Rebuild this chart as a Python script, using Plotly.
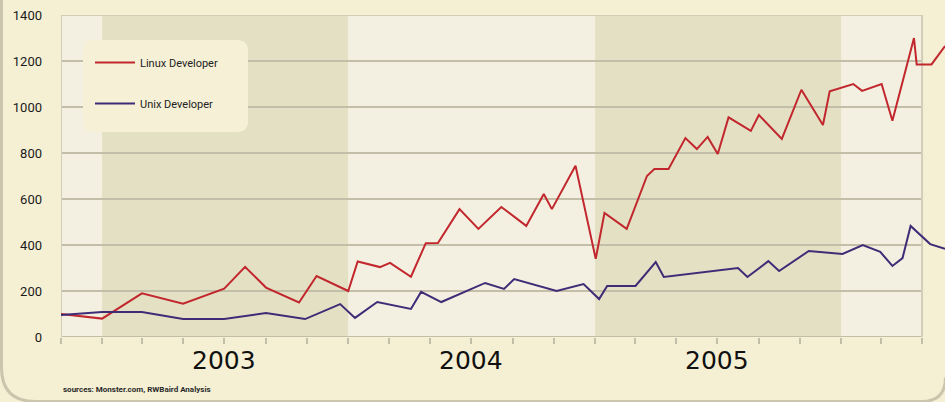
import plotly.graph_objects as go

# ---------------- data ----------------
linux_dates = ["2002-11-01", "2003-01-01", "2003-03-01", "2003-05-01", "2003-07-01", "2003-08-01",
               "2003-09-01", "2003-10-20", "2003-11-15", "2004-01-01", "2004-01-15", "2004-02-17",
               "2004-03-03", "2004-04-03", "2004-04-25", "2004-05-13", "2004-06-14", "2004-07-12",
               "2004-08-15", "2004-09-21", "2004-10-17", "2004-10-29", "2004-12-03", "2005-01-02",
               "2005-01-15", "2005-02-17", "2005-03-19", "2005-03-30", "2005-04-20", "2005-05-15",
               "2005-06-01", "2005-06-17", "2005-07-02", "2005-07-18", "2005-08-20", "2005-09-01",
               "2005-10-05", "2005-11-03", "2005-12-05", "2005-12-15", "2006-01-19", "2006-02-01",
               "2006-03-02", "2006-03-18", "2006-04-19", "2006-04-23", "2006-05-15", "2006-06-04"]
linux_values = [100, 80, 190, 145, 210, 305,
                215, 150, 265, 200, 328, 304,
                322, 262, 408, 409, 556, 470,
                565, 483, 622, 556, 745, 340,
                539, 470, 700, 730, 730, 865,
                817, 870, 796, 955, 896, 965,
                861, 1075, 922, 1068, 1100, 1070,
                1100, 940, 1300, 1185, 1185, 1265]

unix_dates = ["2002-11-01", "2003-01-01", "2003-03-01", "2003-05-01", "2003-07-01", "2003-09-01",
              "2003-10-29", "2003-12-20", "2004-01-11", "2004-02-13", "2004-04-03", "2004-04-18",
              "2004-05-18", "2004-07-22", "2004-08-19", "2004-09-03", "2004-11-05", "2004-12-15",
              "2005-01-07", "2005-01-19", "2005-03-02", "2005-04-01", "2005-04-13", "2005-08-01",
              "2005-08-15", "2005-09-15", "2005-10-01", "2005-11-14", "2006-01-03", "2006-02-02",
              "2006-02-28", "2006-03-18", "2006-04-02", "2006-04-14", "2006-05-13", "2006-06-04"]
unix_values = [96, 109, 109, 78, 78, 104,
               78, 143, 83, 152, 122, 196,
               152, 235, 209, 252, 200, 230,
               165, 222, 222, 326, 261, 300,
               261, 330, 287, 374, 361, 400,
               370, 309, 343, 483, 404, 383]

y_ticks = [0, 200, 400, 600, 800, 1000, 1200, 1400]
year_labels = ["2003", "2004", "2005"]
year_mids = ["2003-07-01", "2004-07-01", "2005-07-01"]
band_edges = ["2002-11-01", "2003-01-01", "2004-01-01", "2005-01-01", "2006-01-01", "2006-05-01"]
x_range = ["2002-11-01", "2006-06-04"]

# ---------------- style ----------------
PAGE = "#F5F0D4"
LIGHT = "#F3F0E1"
DARK = "#E4E0C4"
GRID = "#C3BEA7"
FRAME = "#D3CDB8"
RED = "#C1272D"
BLUE = "#3F2C77"

W, H = 945, 402
L, R, T, B = 61, 0, 15, 65
PW, PH = W - L - R, H - T - B


def px(x):
    return (x - L) / PW


def py(y):
    return (H - B - y) / PH


fig = go.Figure()
fig.add_trace(go.Scatter(x=linux_dates, y=linux_values, mode="lines", name="Linux Developer",
                         line=dict(color=RED, width=2), legendgroup="a"))
fig.add_trace(go.Scatter(x=unix_dates, y=unix_values, mode="lines", name="Unix Developer",
                         line=dict(color=BLUE, width=2), legendgroup="b"))

shapes = []
# alternating year bands
for i in range(len(band_edges) - 1):
    shapes.append(dict(type="rect", xref="x", yref="y", x0=band_edges[i], x1=band_edges[i + 1],
                       y0=0, y1=1400, fillcolor=DARK if i % 2 == 1 else LIGHT,
                       line=dict(width=0), layer="below"))
# gridlines
for v in y_ticks:
    shapes.append(dict(type="line", xref="x", yref="y", x0=band_edges[0], x1=band_edges[-1],
                       y0=v, y1=v, line=dict(color=GRID, width=2), layer="below"))
# frame
shapes.append(dict(type="line", xref="x", yref="y", x0=band_edges[0], x1=band_edges[0],
                   y0=0, y1=1400, line=dict(color=FRAME, width=2), layer="below"))
shapes.append(dict(type="line", xref="x", yref="y", x0=band_edges[-1], x1=band_edges[-1],
                   y0=0, y1=1400, line=dict(color=FRAME, width=2), layer="below"))
shapes.append(dict(type="line", xref="x", yref="y", x0=band_edges[0], x1=band_edges[-1],
                   y0=1400, y1=1400, line=dict(color=FRAME, width=2), layer="below"))

# legend rounded box
lx0, lx1, ly0, ly1, rr = 83, 248, 40, 132, 11
path = (f"M {px(lx0+rr)} {py(ly0)} L {px(lx1-rr)} {py(ly0)} Q {px(lx1)} {py(ly0)} {px(lx1)} {py(ly0+rr)} "
        f"L {px(lx1)} {py(ly1-rr)} Q {px(lx1)} {py(ly1)} {px(lx1-rr)} {py(ly1)} "
        f"L {px(lx0+rr)} {py(ly1)} Q {px(lx0)} {py(ly1)} {px(lx0)} {py(ly1-rr)} "
        f"L {px(lx0)} {py(ly0+rr)} Q {px(lx0)} {py(ly0)} {px(lx0+rr)} {py(ly0)} Z")
shapes.append(dict(type="path", xref="paper", yref="paper", path=path, fillcolor="#F6F1D6",
                   line=dict(width=0), layer="above"))

# outer rounded panel border
bx0, bx1, by1, r1, r2 = 1.5, 945.5, 401.5, 34, 24
opath = (f"M {px(bx0)} {py(-5)} L {px(bx0)} {py(by1-r1)} Q {px(bx0)} {py(by1)} {px(bx0+r1)} {py(by1)} "
         f"L {px(bx1-r2)} {py(by1)} Q {px(bx1)} {py(by1)} {px(bx1)} {py(by1-r2)}")
shapes.append(dict(type="path", xref="paper", yref="paper", path=opath,
                   line=dict(color="#CBC5AE", width=3), layer="below"))

annotations = [dict(text="<b>sources: Monster.com, RWBaird Analysis</b>", xref="paper", yref="paper",
                    x=px(61), y=py(389), xanchor="left", yanchor="middle", showarrow=False,
                    font=dict(size=8, color="#2a2a2a"))]
for lab, mid in zip(year_labels, year_mids):
    annotations.append(dict(text=lab, xref="x", yref="paper", x=mid, y=py(360),
                            xanchor="center", yanchor="middle", showarrow=False,
                            font=dict(family="DejaVu Sans, sans-serif", size=25, color="#111111")))

fig.update_layout(
    width=W, height=H,
    margin=dict(l=L, r=R, t=T, b=B),
    paper_bgcolor=PAGE, plot_bgcolor=PAGE,
    font=dict(family="Roboto, DejaVu Sans, sans-serif", color="#1a1a1a"),
    shapes=shapes,
    showlegend=True,
    legend=dict(x=px(90), y=py(48), xanchor="left", yanchor="top", bgcolor="rgba(0,0,0,0)",
                font=dict(size=11, color="#222222"), tracegroupgap=22, itemwidth=40),
    annotations=annotations,
)

fig.update_xaxes(
    type="date", range=x_range, showgrid=False, zeroline=False, showline=False,
    dtick="M2", tick0="2003-01-01", showticklabels=False,
    ticks="outside", ticklen=6, tickwidth=2, tickcolor=GRID,
)
fig.update_yaxes(
    range=[0, 1400], tickvals=y_ticks, showgrid=False, zeroline=False, showline=False,
    ticks="", tickfont=dict(size=13, color="#1a1a1a"), ticklabelstandoff=18,
)

fig.write_html(
    "out.html",
    config={"displayModeBar": False},
    post_script="document.body.style.margin='0';document.body.style.overflow='hidden';",
)
